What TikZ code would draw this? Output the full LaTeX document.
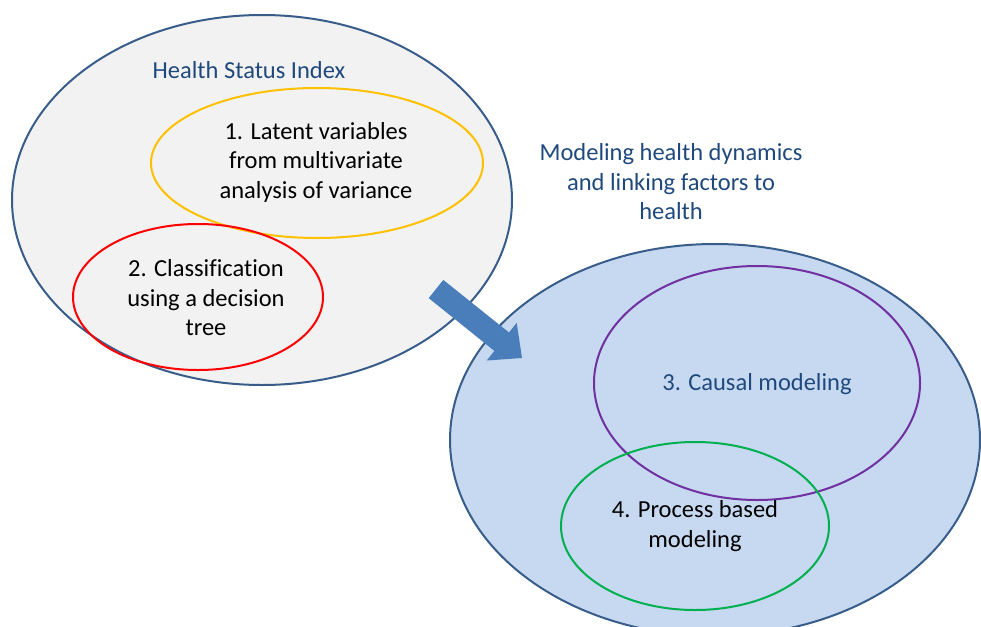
\documentclass[tikz,border=0pt]{standalone}
\usepackage{fontspec}
\setmainfont{Carlito}[Ligatures={NoCommon}]
\usetikzlibrary{shapes.geometric}
\definecolor{outerline}{HTML}{385D8A}
\definecolor{leftfill}{HTML}{F2F2F2}
\definecolor{rightfill}{HTML}{C6D9F1}
\definecolor{txtblue}{HTML}{1F497D}
\definecolor{arrowblue}{HTML}{4A7EBB}
\definecolor{ylw}{HTML}{FFC000}
\definecolor{prp}{HTML}{7030A0}
\definecolor{grn}{HTML}{00B050}
\tikzset{
  blob/.style={ellipse, inner sep=0pt, line width=2pt},
  lbl/.style={align=center, font=\fontsize{24.5}{29.5}\selectfont, inner sep=0pt},
}
\begin{document}
\begin{tikzpicture}[x=1pt,y=-1pt]
\useasboundingbox (0,0) rectangle (981,626);
% outer ellipses
\node[blob, draw=outerline, fill=leftfill, minimum width=500, minimum height=370] (hsi) at (262,200) {};
\node[blob, draw=outerline, fill=rightfill, minimum width=530, minimum height=392] (mod) at (715,440) {};
% inner ellipses
\node[blob, draw=ylw, minimum width=332, minimum height=150] (e1) at (317,163) {};
\node[blob, draw=red, minimum width=250, minimum height=146] (e2) at (198,297) {};
\node[blob, draw=prp, minimum width=326, minimum height=234] (e3) at (757,383) {};
\node[blob, draw=grn, minimum width=268, minimum height=168] (e4) at (695,526) {};
% texts
\node[lbl, text=txtblue] (t0) at (249,70) {Health Status Index};
\node[lbl] (t1) at (316,162) {1. Latent variables\\from multivariate\\analysis of variance};
\node[lbl] (t2) at (206,298) {2. Classification\\using a decision\\tree};
\node[lbl, text=txtblue] (t5) at (671,182) {Modeling health dynamics\\and linking factors to\\health};
\node[lbl, text=txtblue] (t3) at (757,384) {3. Causal modeling};
\node[lbl] (t4) at (695,526) {4. Process based\\modeling};
% block arrow
\fill[arrowblue] (428.7,298.1) -- (443.3,279.9) -- (509.0,332.5) -- (516.7,322.9)
  -- (522,358) -- (486.7,360.5) -- (494.4,350.9) -- cycle;
\end{tikzpicture}
\end{document}
